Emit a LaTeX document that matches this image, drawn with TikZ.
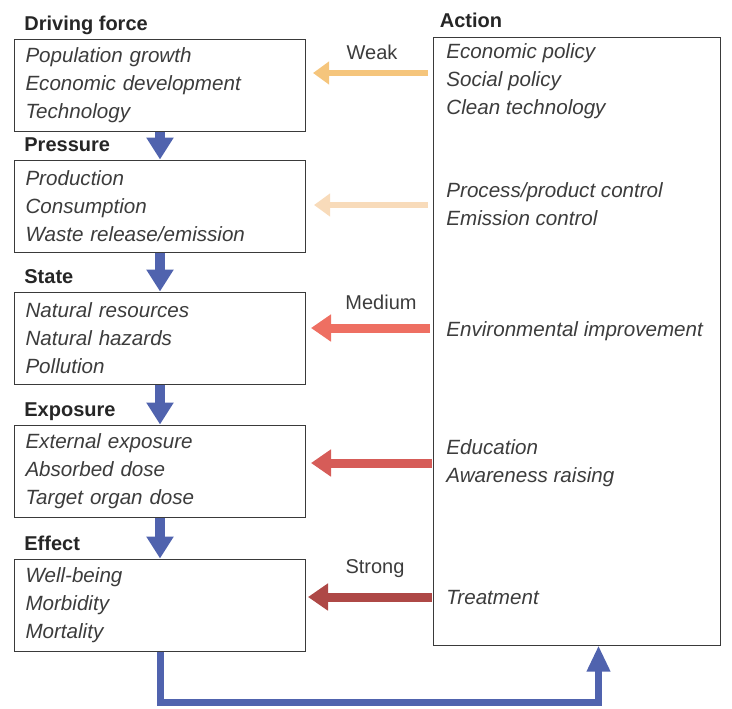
\documentclass[tikz,border=0pt]{standalone}
\usepackage{fontspec}
\setmainfont{Liberation Sans}
\usetikzlibrary{arrows.meta,calc}

\definecolor{bluearrow}{HTML}{5063AE}
\definecolor{weakcol}{HTML}{F5C57C}
\definecolor{palecol}{HTML}{F8DBBA}
\definecolor{medcol}{HTML}{EE6F62}
\definecolor{educol}{HTML}{D65C58}
\definecolor{strongcol}{HTML}{AE4846}
\definecolor{linecol}{HTML}{3A3A3A}
\definecolor{textcol}{HTML}{3C3C3C}

\begin{document}
\begin{tikzpicture}[x=0.5pt,y=-0.5pt,
  box/.style={draw=linecol, line width=0.5pt, minimum width=145.5pt, minimum height=46pt,
    text width=134.5pt, inner xsep=5.5pt, align=left, text=textcol,
    font=\fontsize{10.3}{14}\selectfont\itshape},
  title/.style={anchor=base west, inner sep=0pt, text=black!85, font=\fontsize{10}{12}\selectfont\bfseries},
  acttext/.style={anchor=west, inner sep=0pt, align=left, text=textcol,
    font=\fontsize{10.3}{14}\selectfont\itshape},
  lbl/.style={inner sep=0pt, text=textcol, font=\fontsize{10}{12}\selectfont},
  down/.style={bluearrow, line width=5pt, -{Triangle[width=13pt,length=11pt]}},
  loopline/.style={bluearrow, line width=3.5pt, line join=miter, -{Triangle[width=11pt,length=13pt]}},
  thinarr/.style={line width=3pt, -{Triangle[width=11pt,length=8pt]}},
  thickarr/.style={line width=4.5pt, -{Triangle[width=13pt,length=10pt]}}]
\useasboundingbox (0,0) rectangle (732,708);

% left column
\node [box] (df) at (160,85) {Population growth\\Economic development\\Technology};
\node [box] (pr) at (160,206) {Production\\Consumption\\Waste release/emission};
\node [box] (st) at (160,338) {Natural resources\\Natural hazards\\Pollution};
\node [box] (ex) at (160,471) {External exposure\\Absorbed dose\\Target organ dose};
\node [box] (ef) at (160,605) {Well-being\\Morbidity\\Mortality};
\node [title] (dft) at ($(df.north west)+(10,-8)$) {Driving force};
\node [title] (prt) at ($(pr.north west)+(10,-8)$) {Pressure};
\node [title] (stt) at ($(st.north west)+(10,-8)$) {State};
\node [title] (ext) at ($(ex.north west)+(10,-8)$) {Exposure};
\node [title] (eft) at ($(ef.north west)+(10,-8)$) {Effect};
\draw [down] (df.south) -- (pr.north);
\draw [down] (pr.south) -- (st.north);
\draw [down] (st.south) -- (ex.north);
\draw [down] (ex.south) -- (ef.north);

% action column
\node [draw=linecol, line width=0.5pt, minimum width=143.5pt, minimum height=304pt, inner sep=0pt] (act) at (576.5,341) {};
\node [title] (actt) at ($(act.north west)+(7,-9)$) {Action};
\node [acttext] (a1) at (446,81) {Economic policy\\Social policy\\Clean technology};
\node [acttext] (a2) at (446,204) {Process/product control\\Emission control};
\node [acttext] (a3) at (446,331) {Environmental improvement};
\node [acttext] (a4) at (446,463) {Education\\Awareness raising};
\node [acttext] (a5) at (446,597) {Treatment};

% influence arrows
\draw [thinarr, weakcol] ($(act.west |- df.east)+(-5,-12)$) -- ($(df.east)+(7,-12)$);
\draw [thinarr, palecol] ($(act.west |- pr.east)+(-5,-1)$) -- ($(pr.east)+(8,-1)$);
\draw [thickarr, medcol] ($(act.west |- st.east)+(-3,-10)$) -- ($(st.east)+(5,-10)$);
\draw [thickarr, educol] ($(act.west |- ex.east)+(-1,-8)$) -- ($(ex.east)+(5,-8)$);
\draw [thickarr, strongcol] ($(act.west |- ef.east)+(-1,-8)$) -- ($(ef.east)+(2,-8)$);
\node [lbl] (weak) at (372,52) {Weak};
\node [lbl] (medium) at (381,302) {Medium};
\node [lbl] (strong) at (375,569) {Strong};

% feedback loop
\draw [loopline] (ef.south) -- ($(ef.south)+(0,51)$) -| ($(act.south)+(22,0)$);
\end{tikzpicture}
\end{document}
